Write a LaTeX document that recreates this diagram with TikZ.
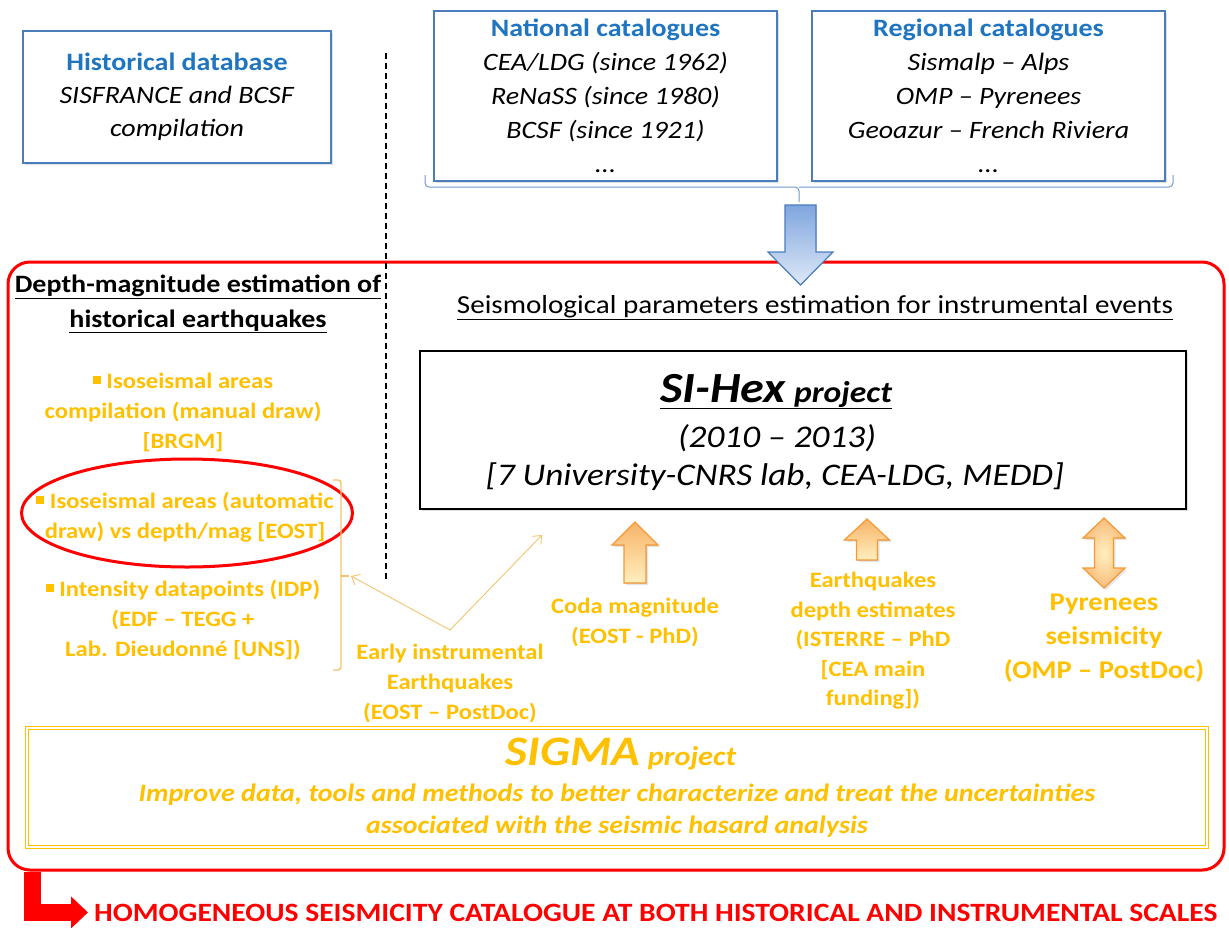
\documentclass[tikz,border=0pt]{standalone}
\usepackage{fontspec}
\setmainfont{Carlito}[FakeStretch=1.12]
\usetikzlibrary{shapes.geometric,arrows.meta,positioning,calc,shadows}
\definecolor{SHBlue}   {HTML}{1F75C0}
\definecolor{SHBoxBlue}{HTML}{4A7EBB}
\definecolor{SHArrBlue}{HTML}{7FA6DE}
\definecolor{SHGold}   {HTML}{FFC000}
\definecolor{SHGoldLt} {HTML}{F3C46E}
\definecolor{SHOrange} {HTML}{F59A35}
\definecolor{SHRed}    {HTML}{FF0000}
\newcommand{\hfs}[2]{\fontsize{#1}{#2}\selectfont}
\newcommand{\sqb}{\raisebox{0.2em}{\rule{0.36em}{0.36em}}}

\begin{document}
\begin{tikzpicture}[x=1pt,y=-1pt,
  catbox/.style={draw=SHBoxBlue,line width=1.4pt,fill=white,align=center,
                 drop shadow={opacity=0.25,shadow xshift=2pt,shadow yshift=-2pt}},
  hdr/.style={font=\hfs{25}{35}\bfseries,align=center},
  gtxt/.style={text=SHGold,font=\hfs{22}{30}\bfseries,align=center},
  uparr/.style={draw=SHOrange,line width=1.2pt,top color=SHOrange!75,bottom color=SHGold!25,
                drop shadow={opacity=0.2,shadow xshift=2pt,shadow yshift=-2pt}},
  brk/.style={SHGoldLt,line width=1.4pt,rounded corners=3pt}
]
  \useasboundingbox (0,0) rectangle (1229,927);

  % main frame
  \node[draw=SHRed,fill=white,line width=3pt,rounded corners=22pt,minimum width=1216pt,minimum height=608pt,
        drop shadow={opacity=0.2,shadow xshift=2pt,shadow yshift=-2pt}] (frame) at (616,566) {};

  % sources
  \node[catbox,minimum width=308pt,minimum height=132pt,font=\hfs{25}{33}] (hist) at (177,97)
    {\textcolor{SHBlue}{\textbf{Historical database}}\\\textit{SISFRANCE and BCSF}\\\textit{compilation}};
  \node[catbox,minimum width=343pt,minimum height=170pt,font=\hfs{25}{34}] (nat) at (605.5,96)
    {\textcolor{SHBlue}{\textbf{National catalogues}}\\\textit{CEA/LDG (since 1962)}\\\textit{ReNaSS (since 1980)}\\\textit{BCSF (since 1921)}\\\textit{...}};
  \node[catbox,minimum width=353pt,minimum height=170pt,font=\hfs{25}{34}] (reg) at (988.5,96)
    {\textcolor{SHBlue}{\textbf{Regional catalogues}}\\\textit{Sismalp -- Alps}\\\textit{OMP -- Pyrenees}\\\textit{Geoazur -- French Riviera}\\\textit{...}};

  % brace and input arrow
  \coordinate (brtick) at (799,202);
  \draw[SHBoxBlue!80,line width=1pt,rounded corners=4pt] (425,175) |- (799,187) -- (brtick);
  \draw[SHBoxBlue!80,line width=1pt,rounded corners=4pt] (1173,175) |- (799,187);
  \filldraw[draw=SHBoxBlue,line width=1.2pt,top color=SHArrBlue,bottom color=SHArrBlue!25]
    (785,205) -- (816,205) -- (816,252) -- (833,252) -- (800.5,285) -- (768,252) -- (785,252) -- cycle;

  \draw[black,dash pattern=on 6pt off 4pt,line width=1.2pt] (386,53) -- (386,580);

  % headers
  \node[hdr] (hdrhist) at (198,304) {\underline{Depth-magnitude estimation of}\\\underline{historical earthquakes}};
  \node[font=\hfs{26}{30},anchor=base] (hdrinst) at (815,313)
    {\underline{Seismological parameters estimation for instrumental events}};

  % SI-Hex
  \node[draw=black,line width=1.3pt,fill=white,minimum width=766pt,minimum height=158pt,
        drop shadow={opacity=0.25,shadow xshift=2pt,shadow yshift=-2pt}] (sihex) at (803,430) {};
  \node[anchor=base] (sihexa) at (776,402)
    {\underline{{\hfs{43}{46}\bfseries\itshape SI-Hex}\hspace{9pt}{\hfs{30}{34}\bfseries\itshape project}}};
  \node[anchor=base,font=\hfs{31.5}{34}\itshape] (sihexb) at (777,447) {(2010 -- 2013)};
  \node[anchor=base,font=\hfs{31.5}{34}\itshape] (sihexc) at (775,485) {[7 University-CNRS lab, CEA-LDG, MEDD]};

  % historical items
  \node[gtxt] (iso1) at (183,412) {\sqb{} Isoseismal areas\\compilation (manual draw)\\{}[BRGM]};
  \node[gtxt] (iso2) at (185,517) {\sqb{} Isoseismal areas (automatic\\draw) vs depth/mag [EOST]};
  \node[gtxt] (idp) at (183,620) {\sqb{} Intensity datapoints (IDP)\\(EDF -- TEGG +\\Lab. Dieudonné [UNS])};
  \node[ellipse,draw=SHRed,line width=3pt,minimum width=331pt,minimum height=108pt] (hlell) at (187,513) {};

  \coordinate (bkttip) at (351,576);
  \coordinate (vtx) at (450,630);
  \coordinate (vend) at (542,535);
  \draw[brk] (333,480) -- (341,480) -- (341,670) -- (333,670);
  \draw[SHGoldLt,line width=1.4pt] (341,576) -- (349,576);
  \draw[SHGoldLt,line width=0.9pt,{Straight Barb[length=7pt,width=12pt]}-{Straight Barb[length=7pt,width=12pt]}]
    (bkttip) -- (vtx) -- (vend);

  % instrumental items
  \node[gtxt] (early) at (450,683) {Early instrumental\\Earthquakes\\(EOST -- PostDoc)};
  \node[gtxt] (coda) at (635,622) {Coda magnitude\\(EOST - PhD)};
  \node[gtxt,font=\hfs{22}{29.5}\bfseries] (depth) at (873,641) {Earthquakes\\depth estimates\\(ISTERRE -- PhD\\{}[CEA main\\funding])};
  \node[gtxt,font=\hfs{25.5}{34}\bfseries] (pyr) at (1104,638) {Pyrenees\\seismicity\\(OMP -- PostDoc)};

  \coordinate (codaarr) at (635,583);
  \coordinate (deptharr) at (867,560);
  \coordinate (pyrarr) at (1104,588);
  \filldraw[uparr,shift={(codaarr)}]
    (-11,0) -- (-11,-38) -- (-23,-38) -- (0,-61) -- (23,-38) -- (11,-38) -- (11,0) -- cycle;
  \filldraw[uparr,shift={(deptharr)}]
    (-10.5,0) -- (-10.5,-20) -- (-22.5,-20) -- (0,-41) -- (22.5,-20) -- (10.5,-20) -- (10.5,0) -- cycle;
  \filldraw[uparr,inner color=SHGold!25,outer color=SHOrange!65,shift={(pyrarr)}]
    (0,0) -- (-21,-20) -- (-9.5,-20) -- (-9.5,-50) -- (-21,-50) -- (0,-70) -- (21,-50)
    -- (9.5,-50) -- (9.5,-20) -- (21,-20) -- cycle;

  % SIGMA
  \node[draw=SHGold,double=white,double distance=1.5pt,line width=1.6pt,fill=white,
        minimum width=1180pt,minimum height=119pt,
        drop shadow={opacity=0.25,shadow xshift=2pt,shadow yshift=-2pt}] (sigma) at (617,787.5) {};
  \node[anchor=base,text=SHGold] (sigmat) at (621,765)
    {{\hfs{42}{44}\bfseries\itshape SIGMA}\hspace{8pt}{\hfs{27}{30}\bfseries\itshape project}};
  \node[text=SHGold,font=\hfs{25}{32}\bfseries\itshape,align=center] (sigmad) at (617,811)
    {Improve data, tools and methods to better characterize and treat the uncertainties\\associated with the seismic hasard analysis};

  % output
  \node[anchor=base west,text=SHRed,font=\hfs{26.4}{30}\bfseries,inner sep=2pt] (homog) at (92,921)
    {HOMOGENEOUS SEISMICITY CATALOGUE AT BOTH HISTORICAL AND INSTRUMENTAL SCALES};
  \draw[SHRed,line width=17pt,-{Triangle[length=17pt,width=31pt]},shorten >=4pt]
    ($(frame.south west)+(26,0)$) |- (homog.west);
\end{tikzpicture}
\end{document}
